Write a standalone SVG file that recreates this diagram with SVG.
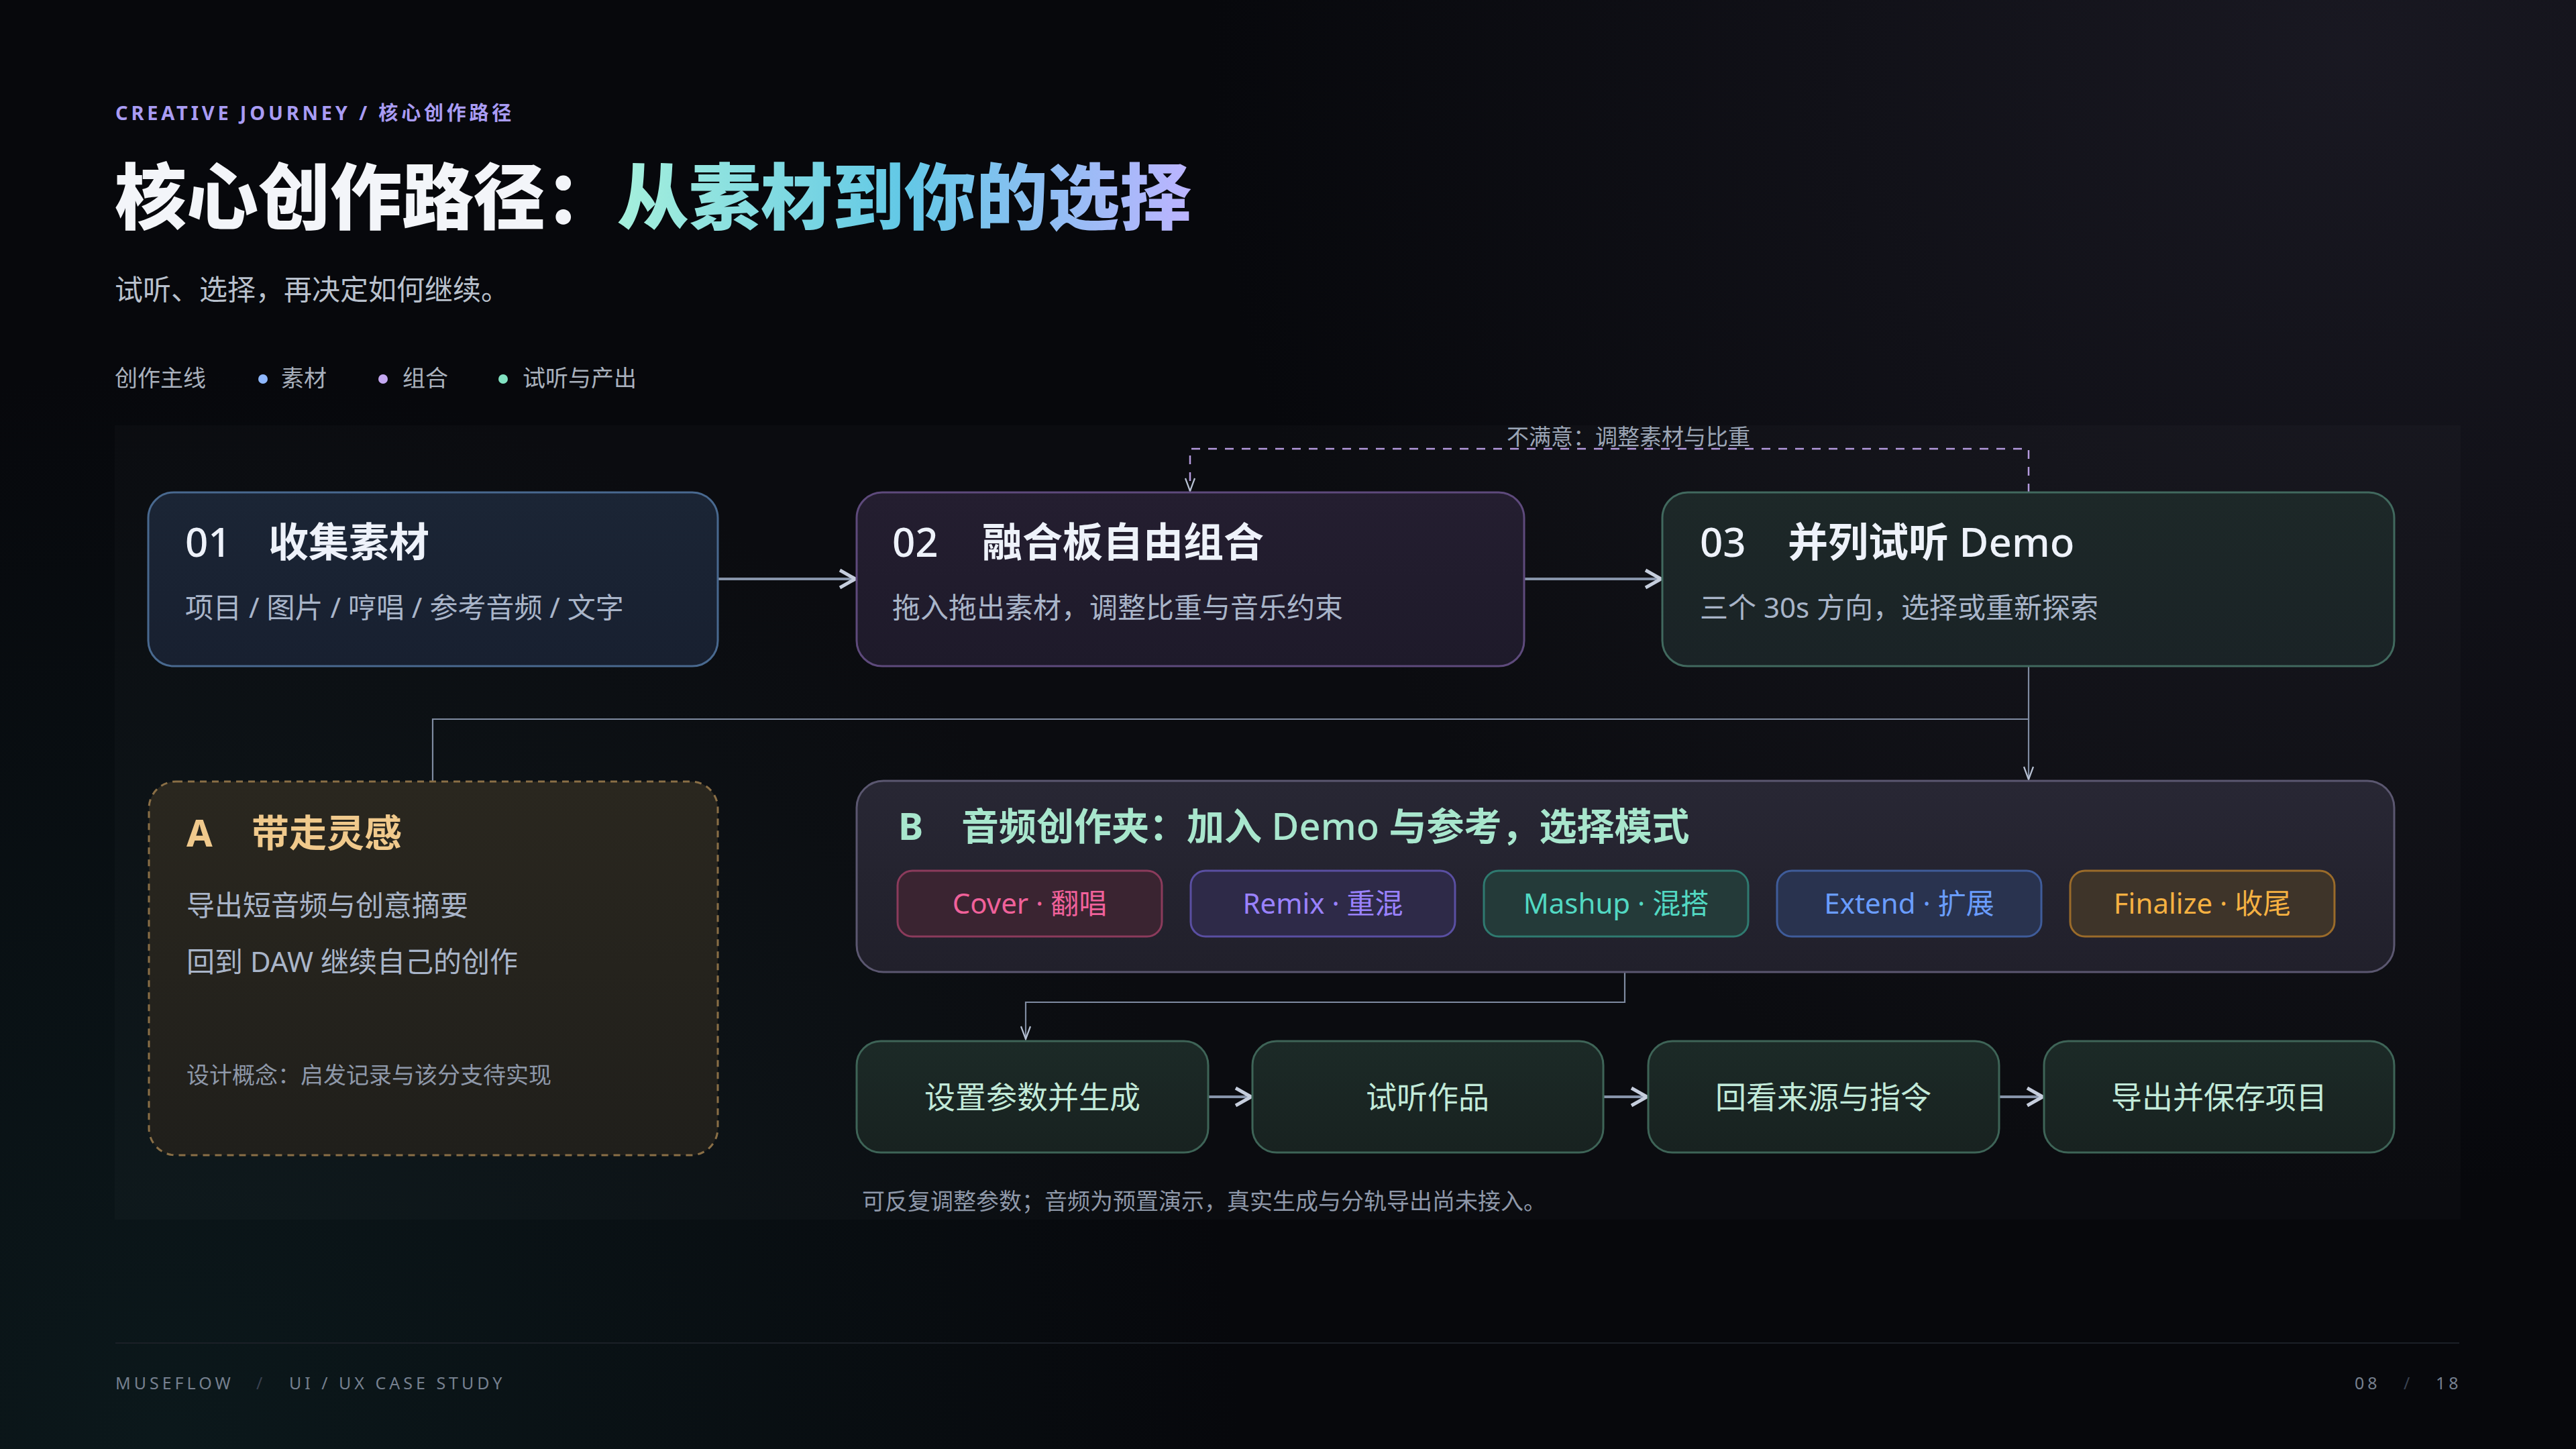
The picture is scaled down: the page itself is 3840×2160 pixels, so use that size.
<svg xmlns="http://www.w3.org/2000/svg" width="3840" height="2160" viewBox="0 0 3840 2160">
<defs>
<radialGradient id="bgTR" cx="3500" cy="80" r="1700" gradientUnits="userSpaceOnUse">
<stop offset="0" stop-color="#1b1a24" stop-opacity="0.9"/>
<stop offset="1" stop-color="#1b1a24" stop-opacity="0"/>
</radialGradient>
<radialGradient id="bgBL" cx="250" cy="2150" r="1600" gradientUnits="userSpaceOnUse">
<stop offset="0" stop-color="#0c1a1d" stop-opacity="0.9"/>
<stop offset="1" stop-color="#0c1a1d" stop-opacity="0"/>
</radialGradient>
<linearGradient id="tg" x1="918" y1="0" x2="1776" y2="0" gradientUnits="userSpaceOnUse">
<stop offset="0" stop-color="#a6f0dc"/>
<stop offset="0.5" stop-color="#62c8e6"/>
<stop offset="1" stop-color="#bcb4ff"/>
</linearGradient>
<linearGradient id="f1" x1="0" y1="0" x2="0" y2="1"><stop offset="0" stop-color="#1b2535"/><stop offset="1" stop-color="#182030"/></linearGradient>
<linearGradient id="f2" x1="0" y1="0" x2="0" y2="1"><stop offset="0" stop-color="#241e30"/><stop offset="1" stop-color="#1e1a2a"/></linearGradient>
<linearGradient id="f3" x1="0" y1="0" x2="0" y2="1"><stop offset="0" stop-color="#1d2828"/><stop offset="1" stop-color="#1a2326"/></linearGradient>
<linearGradient id="fA" x1="0" y1="0" x2="0" y2="1"><stop offset="0" stop-color="#2a271f"/><stop offset="1" stop-color="#201f1b"/></linearGradient>
<linearGradient id="fB" x1="0" y1="0" x2="0" y2="1"><stop offset="0" stop-color="#282734"/><stop offset="1" stop-color="#21202b"/></linearGradient>
<linearGradient id="fS" x1="0" y1="0" x2="0" y2="1"><stop offset="0" stop-color="#1c2a27"/><stop offset="1" stop-color="#182220"/></linearGradient>
<marker id="arr" markerUnits="userSpaceOnUse" markerWidth="32" markerHeight="32" viewBox="0 0 32 32" refX="29" refY="16" orient="auto">
<path d="M6,3 L29,16 L6,29" fill="none" stroke="#c6cedd" stroke-width="5" stroke-linejoin="miter"/>
</marker>
<marker id="arrS" markerUnits="userSpaceOnUse" markerWidth="24" markerHeight="20" viewBox="0 0 24 20" refX="22" refY="10" orient="auto">
<path d="M3,3 L22,10 L3,17" fill="none" stroke="#b8c2d4" stroke-width="2.2"/>
</marker>
<style>
text{font-family:"Noto Sans","Noto Sans CJK SC",sans-serif}
.num{font-size:60px;font-weight:500;fill:#eef2fa}
.ttl{font-size:60px;font-weight:700;fill:#eef2fa}
.sub{font-size:42px;fill:#a9b5c9}
.step{font-size:46px;fill:#c2ead9;text-anchor:middle}
.pill{font-size:42px;text-anchor:middle}
.note{font-size:34px;fill:#8e98a9}
.main{fill:none;stroke:#8794aa;stroke-width:4;marker-end:url(#arr)}
.thin{fill:none;stroke:#7f8ba1;stroke-width:2.2}
.foot{font-size:25px;letter-spacing:5px;fill:#76808f}
.sl{fill:#394150}
</style>
</defs>
<rect width="3840" height="2160" fill="#07080c"/>
<rect width="3840" height="2160" fill="url(#bgTR)"/>
<rect width="3840" height="2160" fill="url(#bgBL)"/>
<rect x="171" y="634" width="3497" height="1184" fill="#ffffff" fill-opacity="0.018"/>

<g id="header">
<text x="172" y="179" font-size="29" font-weight="700" letter-spacing="4.8" fill="#a99cf4">CREATIVE JOURNEY / 核心创作路径</text>
<text x="171" y="333" font-size="107" font-weight="800"><tspan fill="#f3f5f9">核心创作路径：</tspan><tspan fill="url(#tg)">从素材到你的选择</tspan></text>
<text x="171" y="447" font-size="42" fill="#b9c1cd">试听、选择，再决定如何继续。</text>
</g>

<g id="legend" font-size="34">
<text x="171" y="576" font-size="34" fill="#a9b1bd">创作主线</text>
<circle cx="392" cy="565" r="7" fill="#8fb8ff"/>
<text x="419" y="576" font-size="34" fill="#a9b1bd">素材</text>
<circle cx="571" cy="565" r="7" fill="#c4a8f2"/>
<text x="600" y="576" font-size="34" fill="#a9b1bd">组合</text>
<circle cx="750" cy="565" r="7" fill="#82e2c2"/>
<text x="779" y="576" font-size="34" fill="#a9b1bd">试听与产出</text>
</g>

<g id="connectors">
<path class="main" d="M1070,863 H1275"/>
<path class="main" d="M2272,863 H2476"/>
<path d="M3024,734 V669 H1774 V732" fill="none" stroke="#b59ade" stroke-width="2.5" stroke-dasharray="13 12" marker-end="url(#arrS)"/>
<text x="2246" y="663" font-size="33" fill="#9ba5b5">不满意：调整素材与比重</text>
<path class="thin" d="M3024,993 V1072 H645 V1165"/>
<path class="thin" d="M3024,1072 V1162" marker-end="url(#arrS)"/>
<path class="thin" d="M2422,1449 V1494 H1529 V1549" marker-end="url(#arrS)"/>
<path class="main" d="M1801,1635 H1865"/>
<path class="main" d="M2390,1635 H2455"/>
<path class="main" d="M2980,1635 H3045"/>
</g>

<g id="node-01">
<rect x="221" y="734" width="849" height="259" rx="38" fill="url(#f1)" stroke="#49698f" stroke-width="3"/>
<text class="num" x="276" y="830">01</text>
<text class="ttl" x="400" y="830">收集素材</text>
<text class="sub" x="276" y="921">项目 / 图片 / 哼唱 / 参考音频 / 文字</text>
</g>

<g id="node-02">
<rect x="1277" y="734" width="995" height="259" rx="38" fill="url(#f2)" stroke="#5e4a7c" stroke-width="3"/>
<text class="num" x="1330" y="830">02</text>
<text class="ttl" x="1464" y="830">融合板自由组合</text>
<text class="sub" x="1330" y="921">拖入拖出素材，调整比重与音乐约束</text>
</g>

<g id="node-03">
<rect x="2478" y="734" width="1091" height="259" rx="38" fill="url(#f3)" stroke="#41695e" stroke-width="3"/>
<text class="num" x="2534" y="830">03</text>
<text class="ttl" x="2665" y="830">并列试听 <tspan font-weight="500">Demo</tspan></text>
<text class="sub" x="2534" y="921">三个 30s 方向，选择或重新探索</text>
</g>

<g id="node-A">
<rect x="222" y="1165" width="848" height="557" rx="40" fill="url(#fA)" stroke="#8a6f46" stroke-width="3" stroke-dasharray="10 8"/>
<text x="278" y="1262" font-size="56" font-weight="700" fill="#f0c98c">A</text>
<text x="375" y="1262" font-size="56" font-weight="700" fill="#f0c98c">带走灵感</text>
<text class="sub" x="278" y="1365" font-size="41">导出短音频与创意摘要</text>
<text class="sub" x="278" y="1449" font-size="41">回到 DAW 继续自己的创作</text>
<text class="note" x="278" y="1615">设计概念：启发记录与该分支待实现</text>
</g>

<g id="node-B">
<rect x="1277" y="1164" width="2292" height="285" rx="40" fill="url(#fB)" stroke="#5b5770" stroke-width="3"/>
<text x="1339" y="1252" font-size="56" font-weight="700" fill="#a8e6cd">B</text>
<text x="1433" y="1252" font-size="56" font-weight="700" fill="#a8e6cd">音频创作夹：加入 <tspan font-weight="500">Demo</tspan> 与参考，选择模式</text>
</g>

<g id="pill-cover">
<rect x="1338" y="1298" width="394" height="98" rx="22" fill="#3a2431" stroke="#8b3b5c" stroke-width="3"/>
<text class="pill" x="1535" y="1362" fill="#f0619a">Cover · 翻唱</text>
</g>
<g id="pill-remix">
<rect x="1775" y="1298" width="394" height="98" rx="22" fill="#2e2a48" stroke="#5a4fa2" stroke-width="3"/>
<text class="pill" x="1972" y="1362" fill="#9a82ff">Remix · 重混</text>
</g>
<g id="pill-mashup">
<rect x="2212" y="1298" width="394" height="98" rx="22" fill="#243a39" stroke="#2f7a70" stroke-width="3"/>
<text class="pill" x="2409" y="1362" fill="#52d8c2">Mashup · 混搭</text>
</g>
<g id="pill-extend">
<rect x="2649" y="1298" width="394" height="98" rx="22" fill="#29334f" stroke="#3f5c9a" stroke-width="3"/>
<text class="pill" x="2846" y="1362" fill="#6a9dff">Extend · 扩展</text>
</g>
<g id="pill-finalize">
<rect x="3086" y="1298" width="394" height="98" rx="22" fill="#3e3429" stroke="#9a6b2a" stroke-width="3"/>
<text class="pill" x="3283" y="1362" fill="#f5b142">Finalize · 收尾</text>
</g>

<g id="step-1">
<rect x="1277" y="1552" width="524" height="166" rx="36" fill="url(#fS)" stroke="#3e6457" stroke-width="3"/>
<text class="step" x="1539" y="1652">设置参数并生成</text>
</g>
<g id="step-2">
<rect x="1867" y="1552" width="523" height="166" rx="36" fill="url(#fS)" stroke="#3e6457" stroke-width="3"/>
<text class="step" x="2128" y="1652">试听作品</text>
</g>
<g id="step-3">
<rect x="2457" y="1552" width="523" height="166" rx="36" fill="url(#fS)" stroke="#3e6457" stroke-width="3"/>
<text class="step" x="2718" y="1652">回看来源与指令</text>
</g>
<g id="step-4">
<rect x="3047" y="1552" width="522" height="166" rx="36" fill="url(#fS)" stroke="#3e6457" stroke-width="3"/>
<text class="step" x="3308" y="1652">导出并保存项目</text>
</g>
<text class="note" x="1285" y="1803">可反复调整参数；音频为预置演示，真实生成与分轨导出尚未接入。</text>

<g id="footer">
<rect x="172" y="2001" width="3494" height="2" fill="#1b2027"/>
<text class="foot" x="172" y="2071">MUSEFLOW</text>
<text class="foot sl" x="382" y="2071">/</text>
<text class="foot" x="431" y="2071">UI / UX CASE STUDY</text>
<text class="foot" x="3510" y="2071">08</text>
<text class="foot sl" x="3583" y="2071">/</text>
<text class="foot" x="3631" y="2071">18</text>
</g>
</svg>
